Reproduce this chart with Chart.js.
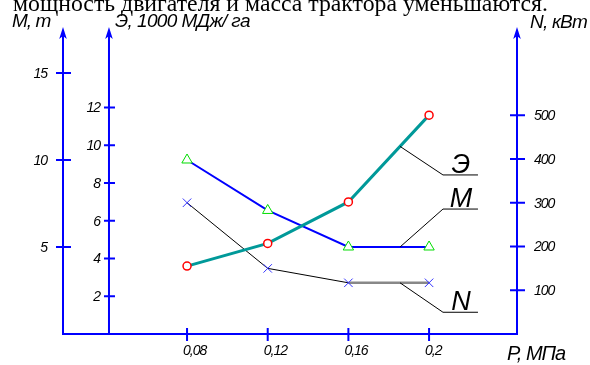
<!DOCTYPE html>
<html>
<head>
<meta charset="utf-8">
<script src="https://cdn.jsdelivr.net/npm/chart.js@4/dist/chart.umd.min.js"></script>
<style>
  html, body { margin: 0; padding: 0; background: #fff; }
  #wrap { width: 590px; height: 365px; position: relative; }
</style>
</head>
<body>
<div id="wrap"><canvas id="c" width="590" height="365"></canvas></div>
<script>
// Давление на почву, МПа
const pressure = [0.08, 0.12, 0.16, 0.2];
// Энергозатраты Э, 1000 МДж/га
const energy = [3.6, 4.8, 7.0, 11.6];
// Масса трактора М, т
const mass = [10, 7.1, 5, 5];
// Мощность двигателя N, кВт
const power = [300, 150, 117, 117];

const pressureTicks = [0.08, 0.12, 0.16, 0.2];
const pressureTickLabels = ['0,08', '0,12', '0,16', '0,2'];
const massTicks = [5, 10, 15];
const energyTicks = [2, 4, 6, 8, 10, 12];
const powerTicks = [100, 200, 300, 400, 500];

const headerLine = 'мощность двигателя и масса трактора уменьшаются.';
const titleMass = 'М, т';
const titleEnergy = 'Э, 1000 МДж/ га';
const titlePower = 'N, кВт';
const titlePressure = 'P, МПа';
const seriesNames = ['Э', 'M', 'N'];

const pts = (ys) => pressure.map((p, i) => ({ x: p, y: ys[i] }));

const SANS = '"Liberation Sans", Arial, sans-serif';
const SERIF = '"Liberation Serif", "Times New Roman", serif';

function arrowUp(ctx, x, tipY) {
  ctx.beginPath();
  ctx.moveTo(x, tipY);
  ctx.lineTo(x - 3.8, tipY + 12);
  ctx.lineTo(x, tipY + 9);
  ctx.lineTo(x + 3.8, tipY + 12);
  ctx.closePath();
  ctx.fill();
}

function txt(ctx, s, x, y, font, align, baseline, spacing) {
  ctx.font = font;
  ctx.textAlign = align;
  ctx.textBaseline = baseline;
  ctx.letterSpacing = spacing || '0px';
  ctx.fillText(s, x, y);
}

// value of a series at pressure p on its last segment
function lastSegmentAt(values, p) {
  const n = pressure.length;
  const p0 = pressure[n - 2], p1 = pressure[n - 1];
  const t = (p - p0) / (p1 - p0);
  return values[n - 2] + t * (values[n - 1] - values[n - 2]);
}

const axesPlugin = {
  id: 'axesPlugin',
  afterDraw(chart) {
    const ctx = chart.ctx;
    const xs = chart.scales.x, sM = chart.scales.yM, sE = chart.scales.yE, sN = chart.scales.yN;
    const base = sM.getPixelForValue(0);
    const axM = xs.getPixelForValue(xs.min);
    const axE = xs.getPixelForValue(0.0413);
    const axN = xs.getPixelForValue(xs.max);
    const tipY = 27;

    ctx.save();
    // header line of the page text above the figure
    ctx.fillStyle = '#000';
    ctx.font = '20px ' + SERIF;
    ctx.letterSpacing = '0px';
    const w20 = ctx.measureText(headerLine).width;
    const fs = 20 * 535 / w20;
    txt(ctx, headerLine, 13, 11, fs.toFixed(2) + 'px ' + SERIF, 'left', 'alphabetic');

    // axes
    ctx.strokeStyle = '#0000ff';
    ctx.fillStyle = '#0000ff';
    ctx.lineWidth = 2;
    ctx.lineCap = 'butt';
    [axM, axE, axN].forEach(ax => {
      ctx.beginPath();
      ctx.moveTo(ax, base + 1);
      ctx.lineTo(ax, tipY + 9);
      ctx.stroke();
      arrowUp(ctx, ax, tipY);
    });
    ctx.beginPath();
    ctx.moveTo(axM - 1, base);
    ctx.lineTo(axN + 1, base);
    ctx.stroke();

    // ticks
    ctx.beginPath();
    massTicks.forEach(v => { const y = sM.getPixelForValue(v); ctx.moveTo(axM - 7, y); ctx.lineTo(axM + 8, y); });
    energyTicks.forEach(v => { const y = sE.getPixelForValue(v); ctx.moveTo(axE - 5, y); ctx.lineTo(axE + 6, y); });
    powerTicks.forEach(v => { const y = sN.getPixelForValue(v); ctx.moveTo(axN - 7, y); ctx.lineTo(axN + 8, y); });
    pressureTicks.forEach(v => { const x = xs.getPixelForValue(v); ctx.moveTo(x, base - 6); ctx.lineTo(x, base + 7); });
    ctx.stroke();

    // tick labels
    ctx.fillStyle = '#000';
    const tf = 'italic 14px ' + SANS;
    massTicks.forEach(v => txt(ctx, String(v), 47, sM.getPixelForValue(v) + 1, tf, 'right', 'middle', '-1px'));
    energyTicks.forEach(v => txt(ctx, String(v), 100, sE.getPixelForValue(v) + 1, tf, 'right', 'middle', '-1px'));
    powerTicks.forEach(v => txt(ctx, String(v), 534, sN.getPixelForValue(v) + 1, tf, 'left', 'middle', '-1px'));
    pressureTicks.forEach((v, i) => txt(ctx, pressureTickLabels[i], xs.getPixelForValue(v) - 4, base + 17, tf, 'left', 'middle', '-1px'));

    // axis titles
    const af = 'italic 19px ' + SANS;
    txt(ctx, titleMass, 12, 27, af, 'left', 'alphabetic', '-1px');
    txt(ctx, titleEnergy, 115, 27, af, 'left', 'alphabetic', '-0.6px');
    txt(ctx, titlePower, 530, 28, af, 'left', 'alphabetic', '-0.8px');
    txt(ctx, titlePressure, 507, 360, 'italic 20px ' + SANS, 'left', 'alphabetic', '-1px');

    // series call-outs
    const from = 0.1856, to = 0.2069;
    const callouts = [
      { scale: sE, values: energy, endY: 8.43 },
      { scale: sM, values: mass, endY: 7.18 },
      { scale: sN, values: power, endY: 49.7 }
    ];
    ctx.strokeStyle = '#000';
    ctx.lineWidth = 1;
    callouts.forEach((c, i) => {
      const x0 = xs.getPixelForValue(from);
      const y0 = c.scale.getPixelForValue(lastSegmentAt(c.values, from));
      const x1 = xs.getPixelForValue(to);
      const y1 = c.scale.getPixelForValue(c.endY);
      ctx.beginPath();
      ctx.moveTo(x0, y0);
      ctx.lineTo(x1, y1);
      ctx.lineTo(x1 + 35, y1);
      ctx.stroke();
      txt(ctx, seriesNames[i], x1 + 18, y1 - 2, 'italic 27px ' + SANS, 'center', 'alphabetic', '0px');
    });
    ctx.restore();
  }
};

new Chart(document.getElementById('c'), {
  type: 'line',
  data: {
    datasets: [
      {
        label: 'Э',
        data: pts(energy),
        yAxisID: 'yE',
        borderColor: '#009999',
        borderWidth: 3,
        pointStyle: 'circle',
        pointRadius: 4,
        pointBorderWidth: 1.5,
        pointBorderColor: '#ff0000',
        pointBackgroundColor: '#ffffff',
        tension: 0
      },
      {
        label: 'M',
        data: pts(mass),
        yAxisID: 'yM',
        borderColor: '#0000ff',
        borderWidth: 2,
        pointStyle: 'triangle',
        pointRadius: 6,
        pointBorderWidth: 1,
        pointBorderColor: '#00dd00',
        pointBackgroundColor: '#ffffff',
        tension: 0
      },
      {
        label: 'N',
        data: pts(power),
        yAxisID: 'yN',
        borderColor: '#000000',
        borderWidth: 1,
        pointStyle: 'crossRot',
        pointRadius: 6,
        pointBorderWidth: 1,
        pointBorderColor: '#3333ff',
        tension: 0,
        segment: {
          borderColor: ctx => ctx.p0DataIndex === pressure.length - 2 ? '#888888' : '#000000',
          borderWidth: ctx => ctx.p0DataIndex === pressure.length - 2 ? 2.5 : 1
        }
      }
    ]
  },
  options: {
    responsive: false,
    animation: false,
    devicePixelRatio: 1,
    layout: { padding: { left: 63, right: 73, top: 34, bottom: 31 } },
    plugins: { legend: { display: false }, tooltip: { enabled: false }, title: { display: false } },
    scales: {
      x: { type: 'linear', min: 0.0185, max: 0.2436, display: false },
      yM: { type: 'linear', position: 'left', min: 0, max: 17.24, display: false },
      yE: { type: 'linear', position: 'left', min: 0, max: 15.9, display: false },
      yN: { type: 'linear', position: 'right', min: 0, max: 685.7, display: false }
    }
  },
  plugins: [axesPlugin]
});
</script>
</body>
</html>
